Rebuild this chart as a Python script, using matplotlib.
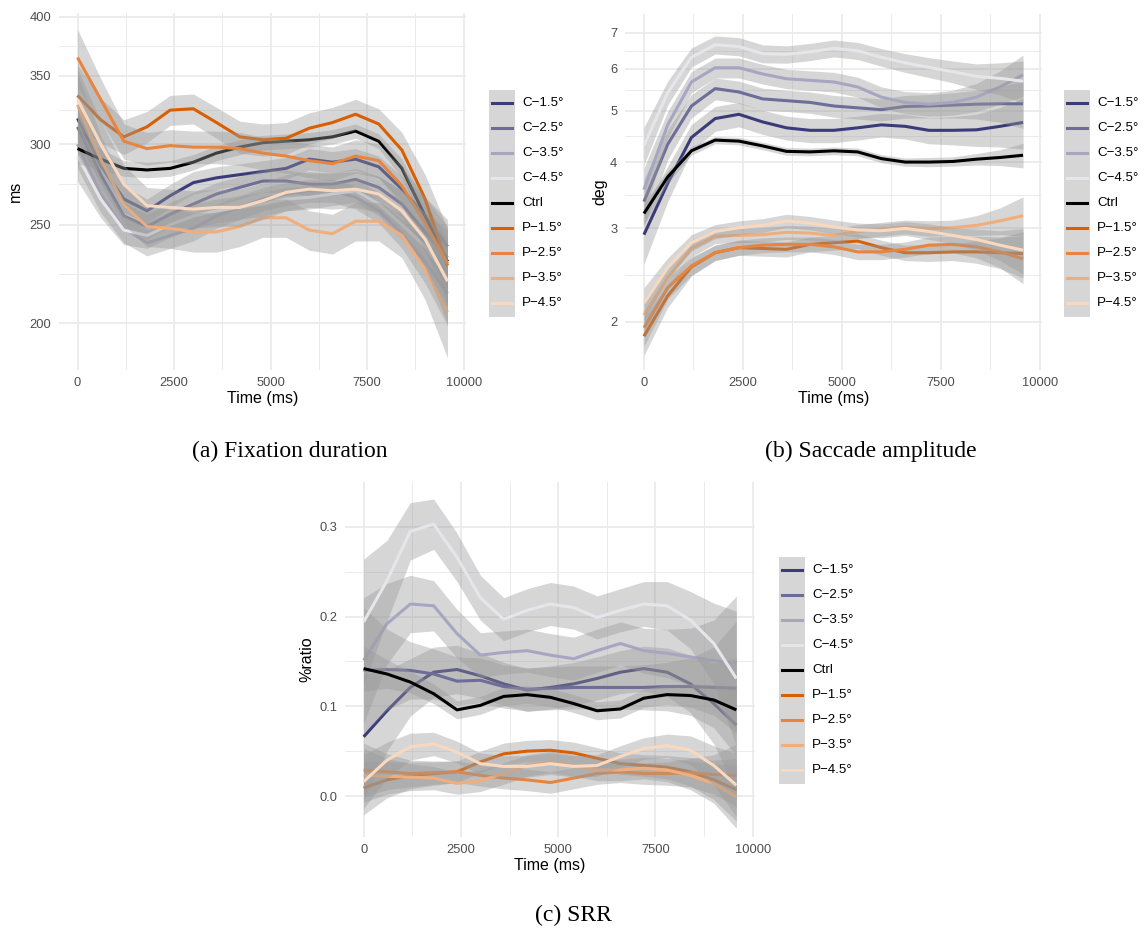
import matplotlib
matplotlib.use('Agg')
import matplotlib.pyplot as plt
from matplotlib.patches import Rectangle
from matplotlib.lines import Line2D

plt.rcParams['font.family'] = ['Liberation Sans', 'DejaVu Sans']

# sample times of the smoothed curves (ms)
time_ms = [0, 600, 1200, 1800, 2400, 3000, 3600, 4200, 4800,
           5400, 6000, 6600, 7200, 7800, 8400, 9000, 9580]

series_names = ['C\u22121.5\u00b0', 'C\u22122.5\u00b0', 'C\u22123.5\u00b0', 'C\u22124.5\u00b0', 'Ctrl',
                'P\u22121.5\u00b0', 'P\u22122.5\u00b0', 'P\u22123.5\u00b0', 'P\u22124.5\u00b0']
series_colors = ['#3B3B7A', '#6D6D98', '#A6A6C2', '#E6E6EA', '#000000',
                 '#D95F02', '#E6853F', '#F0AE7C', '#F8D9C0']

# (a) fixation duration (ms)
fix_c15 = [318, 286, 265, 258, 267, 275, 278, 280, 282, 284, 290, 288, 290, 285, 271, 255, 238]
fix_c25 = [312, 280, 255, 249, 256, 262, 268, 272, 276, 276, 274, 274, 277, 272, 262, 246, 232]
fix_c35 = [300, 268, 248, 240, 244, 248, 255, 260, 265, 268, 270, 270, 266, 258, 245, 230, 214]
fix_c45 = [292, 265, 247, 244, 250, 255, 258, 260, 262, 265, 266, 268, 270, 262, 250, 238, 222]
fix_ctrl = [297, 290, 284, 283, 284, 288, 294, 298, 301, 302, 303, 305, 309, 302, 284, 255, 230]
fix_p15 = [335, 317, 305, 312, 324, 325, 315, 305, 303, 304, 311, 315, 321, 314, 296, 265, 228]
fix_p25 = [365, 332, 302, 297, 299, 298, 298, 297, 294, 292, 289, 287, 292, 289, 273, 251, 229]
fix_p35 = [328, 290, 262, 249, 248, 246, 246, 249, 254, 254, 247, 245, 252, 252, 244, 226, 205]
fix_p45 = [332, 300, 274, 261, 260, 259, 260, 260, 264, 269, 271, 270, 271, 268, 258, 242, 220]
fix_band_c = [16, 11, 8, 7, 7, 7, 7, 7, 7, 7, 7, 7, 7, 7, 8, 11, 15]
fix_band_ctrl = [10, 7, 5, 5, 5, 5, 5, 5, 5, 5, 5, 5, 5, 5, 6, 8, 12]
fix_band_p = [24, 16, 12, 11, 11, 11, 11, 11, 11, 11, 11, 11, 11, 11, 12, 15, 20]

# (b) saccade amplitude (deg)
sac_c15 = [2.92, 3.65, 4.45, 4.83, 4.92, 4.76, 4.64, 4.59, 4.59, 4.64, 4.70, 4.67, 4.59, 4.59, 4.60, 4.67, 4.75]
sac_c25 = [3.37, 4.32, 5.10, 5.50, 5.42, 5.26, 5.22, 5.18, 5.10, 5.06, 5.02, 5.09, 5.10, 5.12, 5.14, 5.15, 5.15]
sac_c35 = [3.55, 4.70, 5.66, 6.02, 6.02, 5.86, 5.74, 5.70, 5.66, 5.54, 5.30, 5.18, 5.14, 5.18, 5.30, 5.54, 5.84]
sac_c45 = [4.30, 5.40, 6.30, 6.65, 6.60, 6.40, 6.38, 6.45, 6.55, 6.48, 6.30, 6.15, 6.03, 5.92, 5.80, 5.75, 5.68]
sac_ctrl = [3.20, 3.75, 4.20, 4.40, 4.38, 4.29, 4.19, 4.18, 4.20, 4.18, 4.06, 4.00, 4.00, 4.01, 4.05, 4.08, 4.12]
sac_p15 = [1.88, 2.24, 2.54, 2.70, 2.76, 2.75, 2.74, 2.80, 2.82, 2.84, 2.76, 2.70, 2.70, 2.71, 2.71, 2.70, 2.69]
sac_p25 = [1.95, 2.32, 2.55, 2.70, 2.76, 2.79, 2.80, 2.80, 2.77, 2.71, 2.71, 2.74, 2.79, 2.80, 2.77, 2.71, 2.63]
sac_p35 = [2.06, 2.42, 2.75, 2.90, 2.91, 2.92, 2.95, 2.94, 2.91, 2.96, 2.99, 3.02, 3.00, 3.01, 3.04, 3.10, 3.17]
sac_p45 = [2.17, 2.53, 2.82, 2.96, 3.01, 3.04, 3.10, 3.07, 3.02, 2.98, 2.97, 3.00, 2.96, 2.91, 2.86, 2.79, 2.73]
sac_band_c = [0.35, 0.28, 0.26, 0.26, 0.26, 0.25, 0.24, 0.24, 0.24, 0.24, 0.24, 0.25, 0.26, 0.28, 0.32, 0.40, 0.52]
sac_band_ctrl = [0.15, 0.10, 0.08, 0.07, 0.07, 0.07, 0.07, 0.07, 0.07, 0.07, 0.07, 0.07, 0.08, 0.08, 0.10, 0.14, 0.22]
sac_band_p = [0.15, 0.11, 0.10, 0.09, 0.09, 0.09, 0.09, 0.09, 0.09, 0.09, 0.09, 0.09, 0.10, 0.10, 0.13, 0.18, 0.27]

# (c) SRR (%ratio)
srr_c15 = [0.066, 0.095, 0.121, 0.138, 0.141, 0.134, 0.125, 0.118, 0.121, 0.125, 0.131, 0.138, 0.142, 0.138, 0.125, 0.103, 0.079]
srr_c25 = [0.140, 0.141, 0.140, 0.136, 0.128, 0.129, 0.122, 0.119, 0.120, 0.121, 0.121, 0.121, 0.121, 0.122, 0.122, 0.121, 0.120]
srr_c35 = [0.151, 0.192, 0.214, 0.212, 0.181, 0.157, 0.160, 0.162, 0.157, 0.153, 0.162, 0.170, 0.162, 0.159, 0.155, 0.151, 0.148]
srr_c45 = [0.194, 0.240, 0.295, 0.303, 0.266, 0.221, 0.197, 0.207, 0.214, 0.210, 0.199, 0.207, 0.214, 0.212, 0.196, 0.170, 0.131]
srr_ctrl = [0.142, 0.136, 0.127, 0.114, 0.096, 0.101, 0.111, 0.113, 0.110, 0.103, 0.095, 0.097, 0.109, 0.113, 0.112, 0.107, 0.096]
srr_p15 = [0.009, 0.018, 0.023, 0.025, 0.027, 0.038, 0.047, 0.050, 0.051, 0.048, 0.042, 0.036, 0.034, 0.032, 0.027, 0.018, 0.007]
srr_p25 = [0.029, 0.027, 0.025, 0.026, 0.027, 0.023, 0.020, 0.018, 0.015, 0.020, 0.025, 0.027, 0.025, 0.025, 0.026, 0.024, 0.023]
srr_p35 = [0.023, 0.022, 0.021, 0.020, 0.014, 0.017, 0.025, 0.034, 0.038, 0.034, 0.029, 0.029, 0.031, 0.029, 0.023, 0.014, -0.001]
srr_p45 = [0.016, 0.040, 0.055, 0.058, 0.049, 0.036, 0.033, 0.033, 0.036, 0.033, 0.034, 0.044, 0.053, 0.056, 0.051, 0.034, 0.012]
srr_band_c = [0.070, 0.045, 0.032, 0.028, 0.027, 0.025, 0.024, 0.024, 0.024, 0.024, 0.024, 0.024, 0.025, 0.027, 0.032, 0.045, 0.075]
srr_band_ctrl = [0.025, 0.016, 0.012, 0.011, 0.010, 0.010, 0.010, 0.010, 0.010, 0.010, 0.010, 0.010, 0.010, 0.011, 0.013, 0.017, 0.026]
srr_band_p = [0.030, 0.020, 0.015, 0.013, 0.012, 0.012, 0.012, 0.012, 0.012, 0.012, 0.012, 0.012, 0.012, 0.013, 0.016, 0.022, 0.035]

W, H = 1146, 931
fig = plt.figure(figsize=(W / 100, H / 100), dpi=100)


def px_axes(left, top, right, bottom):
    return fig.add_axes([left / W, 1 - bottom / H, (right - left) / W, (bottom - top) / H])


def draw_panel(ax, curves, bands, ylabel, ylab_x):
    # ribbon then line for each group, like geom_smooth
    for i, (vals, band, col) in enumerate(zip(curves, bands, series_colors)):
        lo = [v - b for v, b in zip(vals, band)]
        hi = [v + b for v, b in zip(vals, band)]
        ax.fill_between(time_ms, lo, hi, color='#999999', alpha=0.4, lw=0, zorder=2 + 2 * i)
        ax.plot(time_ms, vals, color=col, lw=2.2, zorder=3 + 2 * i,
                solid_joinstyle='round', solid_capstyle='butt')
    ax.set_xlim(-479, 10059)
    ax.set_xticks([0, 2500, 5000, 7500, 10000])
    ax.set_xticks([1250, 3750, 6250, 8750], minor=True)
    for s in ax.spines.values():
        s.set_visible(False)
    ax.grid(which='major', color='#EBEBEB', lw=1.3, zorder=0)
    ax.grid(which='minor', color='#EBEBEB', lw=0.7, zorder=0)
    ax.set_axisbelow(True)
    ax.tick_params(which='both', length=0, labelsize=9.3, labelcolor='#4D4D4D')
    ax.tick_params(axis='x', pad=5)
    ax.tick_params(axis='y', pad=5.5)
    ax.set_xlabel('Time (ms)', fontsize=11.5, va='center')
    ax.xaxis.set_label_coords(0.5, -0.08)
    ax.set_ylabel(ylabel, fontsize=11.5, va='center')
    ax.yaxis.set_label_coords(ylab_x, 0.5)


def draw_legend(box_left, box_top):
    tr = fig.transFigure
    fig.add_artist(Rectangle((box_left / W, 1 - (box_top + 227) / H), 26 / W, 227 / H,
                             transform=tr, facecolor='#D6D6D6', edgecolor='none'))
    for i, (name, col) in enumerate(zip(series_names, series_colors)):
        y = box_top + 13 + 25 * i
        fig.add_artist(Line2D([(box_left + 3) / W, (box_left + 23) / W], [1 - y / H, 1 - y / H],
                              transform=tr, color=col, lw=2.2))
        fig.text((box_left + 33) / W, 1 - y / H, name, fontsize=9.6, va='center', ha='left')


# (a)
ax_a = px_axes(59, 13, 466, 370)
draw_panel(ax_a, [fix_c15, fix_c25, fix_c35, fix_c45, fix_ctrl, fix_p15, fix_p25, fix_p35, fix_p45],
           [fix_band_c] * 4 + [fix_band_ctrl] + [fix_band_p] * 4, 'ms', -0.108)
ax_a.set_yscale('log')
ax_a.set_ylim(180, 403.6)
ax_a.set_yticks([200, 250, 300, 350, 400], labels=['200', '250', '300', '350', '400'])
ax_a.set_yticks([223.6, 273.9, 324.0, 374.2], labels=['', '', '', ''], minor=True)
draw_legend(489, 90)

# (b)
ax_b = px_axes(625, 14, 1042, 370)
draw_panel(ax_b, [sac_c15, sac_c25, sac_c35, sac_c45, sac_ctrl, sac_p15, sac_p25, sac_p35, sac_p45],
           [sac_band_c] * 4 + [sac_band_ctrl] + [sac_band_p] * 4, 'deg', -0.06)
ax_b.set_yscale('log')
ax_b.set_ylim(1.624, 7.6)
ax_b.set_yticks([2, 3, 4, 5, 6, 7], labels=['2', '3', '4', '5', '6', '7'])
ax_b.set_yticks([2.449, 3.464, 4.472, 5.477, 6.481], labels=['', '', '', '', ''], minor=True)
draw_legend(1064, 90)

# (c)
ax_c = px_axes(345, 482, 755, 837)
draw_panel(ax_c, [srr_c15, srr_c25, srr_c35, srr_c45, srr_ctrl, srr_p15, srr_p25, srr_p35, srr_p45],
           [srr_band_c] * 4 + [srr_band_ctrl] + [srr_band_p] * 4, '%ratio', -0.093)
ax_c.set_ylim(-0.0457, 0.350)
ax_c.set_yticks([0.0, 0.1, 0.2, 0.3], labels=['0.0', '0.1', '0.2', '0.3'])
ax_c.set_yticks([0.05, 0.15, 0.25], labels=['', '', ''], minor=True)
draw_legend(779, 557)

# sub-figure captions
cap = dict(fontsize=17, family=['Liberation Serif', 'DejaVu Serif'], ha='center', va='center')
fig.text(290 / W, 1 - 451 / H, '(a) Fixation duration', **cap)
fig.text(871 / W, 1 - 451 / H, '(b) Saccade amplitude', **cap)
fig.text(573 / W, 1 - 915 / H, '(c) SRR', **cap)

fig.savefig('out.png', dpi=100)
